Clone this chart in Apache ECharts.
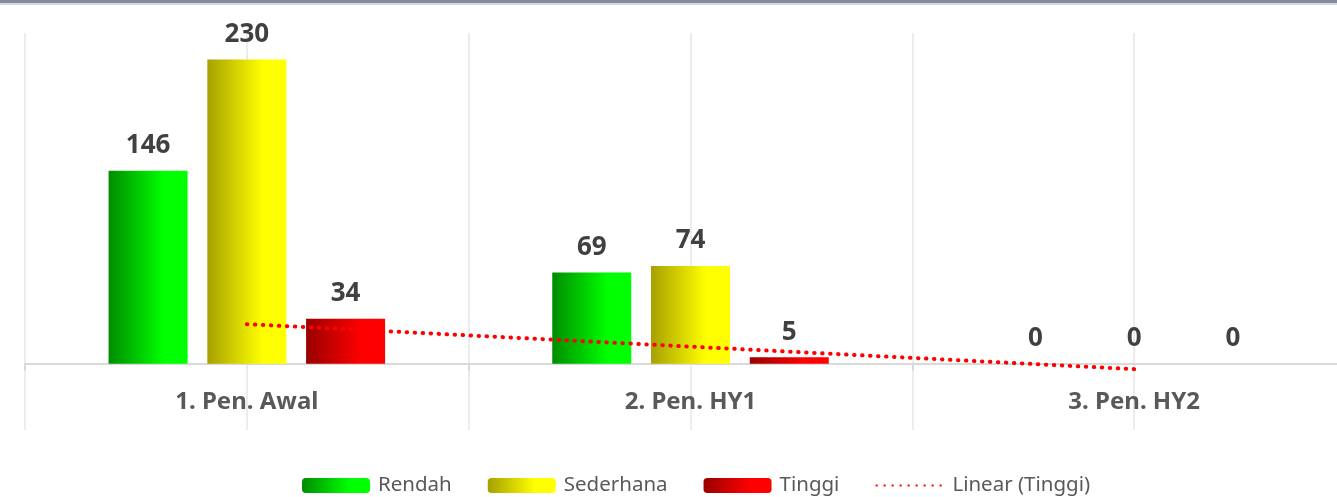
<!DOCTYPE html>
<html>
<head>
<meta charset="utf-8">
<script src="https://cdn.jsdelivr.net/npm/echarts@6/dist/echarts.min.js"></script>
<style>
  html, body { margin: 0; padding: 0; background: #fff; }
  #chart { width: 1337px; height: 497px; }
</style>
</head>
<body>
<div id="chart"></div>
<script>
// kategori penilaian
var categories = ['1. Pen. Awal', '2. Pen. HY1', '3. Pen. HY2'];
var rendah = [146, 69, 0];
var sederhana = [230, 74, 0];
var tinggi = [34, 5, 0];
// garis trend linear (Tinggi)
var trendTinggi = [30, 13, -4];

function grad(dark, light) {
  return new echarts.graphic.LinearGradient(0, 0, 1, 0, [
    { offset: 0, color: dark },
    { offset: 0.7, color: light },
    { offset: 1, color: light }
  ]);
}

var labelStyle = {
  show: true,
  position: 'top',
  distance: 12,
  fontFamily: 'Noto Sans',
  fontWeight: 'bold',
  fontSize: 26,
  color: '#404040'
};

var myChart = echarts.init(document.getElementById('chart'));
var option = {
  backgroundColor: '#fff',
  animation: false,
  graphic: [
    { type: 'rect', shape: { x: 0, y: 0, width: 1337, height: 3 }, style: { fill: '#858b9b' } },
    { type: 'rect', shape: { x: 0, y: 3, width: 1337, height: 2 }, style: { fill: '#d3d6dd' } }
  ],
  legend: {
    left: 302,
    top: 475,
    padding: 0,
    itemWidth: 68,
    itemHeight: 15,
    itemGap: 36,
    textStyle: { fontFamily: 'Noto Sans', fontSize: 20.5, color: '#595959', padding: [0, 0, 0, 3] },
    data: ['Rendah', 'Sederhana', 'Tinggi', { name: 'Linear (Tinggi)', itemStyle: { opacity: 0 } }]
  },
  grid: { left: 25, top: 33, width: 1331, height: 397, outerBoundsMode: 'none' },
  xAxis: [{
    type: 'category',
    data: categories,
    axisLine: { onZero: true, lineStyle: { color: '#d9d9d9', width: 2 } },
    axisTick: { show: true, length: 7, lineStyle: { color: '#d9d9d9', width: 2 } },
    axisLabel: {
      margin: -40,
      fontFamily: 'Noto Sans',
      fontWeight: 'bold',
      fontSize: 24,
      color: '#595959'
    },
    splitLine: { show: false }
  }, {
    type: 'category',
    data: ['', '', '', '', '', ''],
    position: 'top',
    axisLine: { show: false },
    axisTick: { show: false },
    axisLabel: { show: false },
    splitLine: { show: true, lineStyle: { color: '#ececec', width: 2 } }
  }],
  yAxis: {
    type: 'value',
    min: -50,
    max: 250,
    show: false,
    splitLine: { show: false }
  },
  series: [{
    name: 'Rendah',
    type: 'bar',
    data: rendah,
    barWidth: 79,
    barGap: '25%',
    itemStyle: { color: grad('#008c00', '#00ff00') },
    label: labelStyle
  }, {
    name: 'Sederhana',
    type: 'bar',
    data: sederhana,
    barWidth: 79,
    itemStyle: { color: grad('#a6a000', '#ffff00') },
    label: labelStyle
  }, {
    name: 'Tinggi',
    type: 'bar',
    data: tinggi,
    barWidth: 79,
    itemStyle: { color: grad('#990000', '#ff0000') },
    label: labelStyle
  }, {
    name: 'Linear (Tinggi)',
    type: 'line',
    data: trendTinggi,
    symbol: 'none',
    z: 5,
    itemStyle: { color: '#ff0000' },
    lineStyle: { color: '#ff0000', width: 4, type: [0.5, 7.5], cap: 'round' }
  }]
};
myChart.setOption(option);
</script>
</body>
</html>
